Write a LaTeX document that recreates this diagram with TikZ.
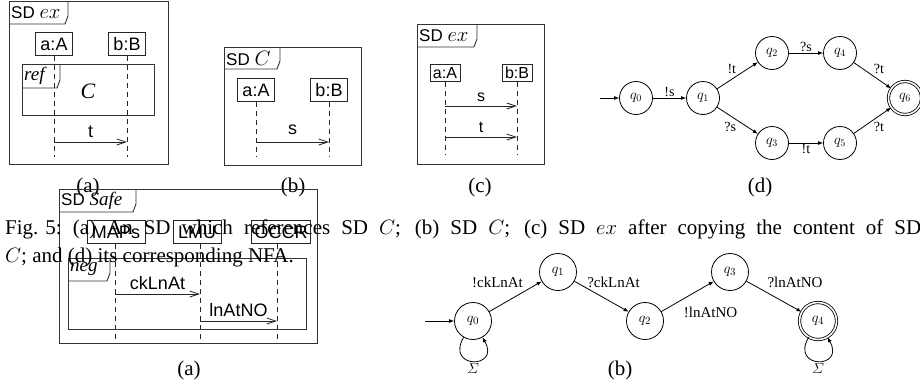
\documentclass[tikz,border=0pt]{standalone}
\usepackage{amsmath}
\usepackage{fontspec}
\setmainfont{Liberation Serif}
\setsansfont{Liberation Sans}
\usetikzlibrary{arrows.meta}
\newcommand\fs[1]{\fontsize{#1}{#1}\selectfont}
\newcommand\mytab[6]{%
  \draw[frm] (#2,#5) -- ({#4-3},#5) -- (#4,{#5-8}) -- (#4,#3);
  \node[tablbl, anchor=west] (#1) at ({#2+1},{(#3+#5)/2}) {#6};
}
\tikzset{
  frm/.style={draw=black!80, line width=0.9pt},
  tablbl/.style={inner sep=1pt, font=\sffamily\fs{17}},
  lbox/.style={draw=black!85, line width=0.8pt, font=\sffamily\fs{18}, inner xsep=5pt, inner ysep=0pt, minimum height=23pt},
  lboxs/.style={lbox, font=\sffamily\fs{16}, minimum height=17pt, inner xsep=3pt},
  life/.style={draw=black!85, line width=0.8pt, dash pattern=on 5pt off 4pt},
  msg/.style={draw=black!85, line width=0.8pt, -{Straight Barb[length=9pt,width=6pt,line width=0.8pt]}},
  mlbl/.style={font=\sffamily\fs{18}, inner sep=0pt},
  st/.style={circle, draw, line width=0.8pt, minimum size=33pt, inner sep=0pt, font=\fs{14}},
  acc/.style={st, double, double distance=1.6pt},
  stb/.style={st, minimum size=37pt, font=\fs{15}},
  accb/.style={stb, double, double distance=1.6pt},
  tr/.style={-{Latex[length=5pt,width=4pt]}, line width=0.8pt},
  tl/.style={font=\fs{14}, inner sep=1pt},
  tlb/.style={font=\fs{15}, inner sep=0pt},
  captxt/.style={font=\fs{21}, inner sep=0pt},
}
\begin{document}
\begin{tikzpicture}[x=1pt,y=-1pt]
\useasboundingbox (0,0) rectangle (920,383);

% ---------- top (a)
\draw[frm] (9,1) rectangle (168,164);
\mytab{tabA}{9}{1}{68}{24}{SD \fs{20}$ex$}
\node[lbox] (aA) at (54,44) {a:A};
\node[lbox] (aB) at (127,44) {b:B};
\coordinate (aAe) at (54,157); \coordinate (aBe) at (127,157);
\draw[life] (aA) -- (aAe); \draw[life] (aB) -- (aBe);
\draw[frm] (22,64) rectangle (154,115);
\mytab{refA}{22}{64}{60}{88}{\rmfamily\itshape\fs{19}ref}
\node (aC) at (88,91) {\fs{22}\itshape C};
\coordinate (aT1) at (54,142); \coordinate (aT2) at (127,142);
\draw[msg] (aT1) -- node[mlbl, above=4pt] (aTl) {t} (aT2);
\node[captxt] (capa) at (88,187) {(a)};

% ---------- top (b)
\draw[frm] (224,47) rectangle (361,165);
\mytab{tabB}{224}{47}{280}{69}{SD \fs{20}$C$}
\node[lbox] (bA) at (256,90) {a:A};
\node[lbox] (bB) at (329,90) {b:B};
\coordinate (bAe) at (256,156); \coordinate (bBe) at (329,156);
\draw[life] (bA) -- (bAe); \draw[life] (bB) -- (bBe);
\coordinate (bS1) at (256,142); \coordinate (bS2) at (329,142);
\draw[msg] (bS1) -- node[mlbl, above=7pt] (bSl) {s} (bS2);
\node[captxt] (capb) at (293,187) {(b)};

% ---------- top (c)
\draw[frm] (417,24) rectangle (544,164);
\mytab{tabC}{417}{24}{477}{47}{SD \fs{20}$ex$}
\node[lboxs] (cA) at (445,73) {a:A};
\node[lboxs] (cB) at (517,73) {b:B};
\coordinate (cAe) at (445,155); \coordinate (cBe) at (517,155);
\draw[life] (cA) -- (cAe); \draw[life] (cB) -- (cBe);
\coordinate (cS1) at (445,106); \coordinate (cS2) at (517,106);
\draw[msg] (cS1) -- node[mlbl, font=\sffamily\fs{16}, above=4pt] (cSl) {s} (cS2);
\coordinate (cT1) at (445,137); \coordinate (cT2) at (517,137);
\draw[msg] (cT1) -- node[mlbl, font=\sffamily\fs{16}, above=4pt] (cTl) {t} (cT2);
\node[captxt] (capc) at (480,187) {(c)};

% ---------- top (d) NFA
\node[st] (d0) at (636,98) {$q_0$};
\node[st] (d1) at (703,98) {$q_1$};
\node[st] (d2) at (772,53) {$q_2$};
\node[st] (d4) at (840,53) {$q_4$};
\node[st] (d3) at (772,143) {$q_3$};
\node[st] (d5) at (840,143) {$q_5$};
\node[acc] (d6) at (905,98) {$q_6$};
\coordinate (dIn) at (600,98);
\draw[tr] (dIn) -- (d0);
\draw[tr] (d0) -- node[tl, above] (l01) {!s} (d1);
\draw[tr] (d1) -- node[tl, above left] (l12) {!t} (d2);
\draw[tr] (d2) -- node[tl, above] (l24) {?s} (d4);
\draw[tr] (d4) -- node[tl, above right] (l46) {?t} (d6);
\draw[tr] (d1) -- node[tl, below left] (l13) {?s} (d3);
\draw[tr] (d3) -- node[tl, below] (l35) {!t} (d5);
\draw[tr] (d5) -- node[tl, below right] (l56) {?t} (d6);
\node[captxt] (capd) at (760,187) {(d)};

% ---------- bottom (a) SD Safe
\draw[frm] (59,189) rectangle (317,343);
\mytab{tabS}{59}{189}{136}{212}{SD {\rmfamily\itshape\fs{19}Safe}}
\node[lbox] (sM) at (116,232) {MAPs};
\node[lbox] (sL) at (197,232) {LMU};
\node[lbox, inner xsep=3pt] (sO) at (281,232) {OCCR};
\coordinate (sMe) at (115,343); \coordinate (sLe) at (200,343); \coordinate (sOe) at (277,343);
\draw[life] (sM.south -| sMe) -- (sMe); \draw[life] (sL.south -| sLe) -- (sLe); \draw[life] (sO.south -| sOe) -- (sOe);
\draw[frm] (68,258) rectangle (306,329);
\mytab{negS}{68}{258}{110}{281}{\rmfamily\itshape\fs{19}neg}
\coordinate (sC1) at (115,294); \coordinate (sC2) at (200,294);
\draw[msg] (sC1) -- node[mlbl, above=4pt] (sCl) {ckLnAt} (sC2);
\coordinate (sN1) at (200,321); \coordinate (sN2) at (277,321);
\draw[msg] (sN1) -- node[mlbl, above=4pt] (sNl) {lnAtNO} (sN2);
\node[captxt] (capsa) at (189,370) {(a)};

% ---------- bottom (b) NFA
\node[stb] (e0) at (473,321) {$q_0$};
\node[stb] (e1) at (558,272) {$q_1$};
\node[stb] (e2) at (645,321) {$q_2$};
\node[stb] (e3) at (730,272) {$q_3$};
\node[accb] (e4) at (818,321) {$q_4$};
\coordinate (eIn) at (425,321);
\draw[tr] (eIn) -- (e0);
\draw[tr] (e0) -- node[tlb, xshift=-18pt, yshift=14pt] (m01) {!ckLnAt} (e1);
\draw[tr] (e1) -- node[tlb, xshift=12pt, yshift=14pt] (m12) {?ckLnAt} (e2);
\draw[tr] (e2) -- node[tlb, xshift=23pt, yshift=-16pt] (m23) {!lnAtNO} (e3);
\draw[tr] (e3) -- node[tlb, xshift=21pt, yshift=14pt] (m34) {?lnAtNO} (e4);
\draw[tr] (e0) to[out=240, in=300, looseness=5] node[tlb, below=2pt] (m00) {$\varSigma$} (e0);
\draw[tr] (e4) to[out=240, in=300, looseness=5] node[tlb, below=2pt] (m44) {$\varSigma$} (e4);
\node[captxt] (capsb) at (620,370) {(b)};

% ---------- caption text (justified first line)
\node[captxt, anchor=base west] (cap1) at (5,234) {\makebox[916pt][s]{\hbox{Fig. 5:} (a) An SD which references SD $C$; (b) SD $C$; (c) SD $ex$ after copying the content of SD}};
\node[captxt, anchor=base west] (cap2) at (5,262) {$C$; and (d) its corresponding NFA.};
\end{tikzpicture}
\end{document}
